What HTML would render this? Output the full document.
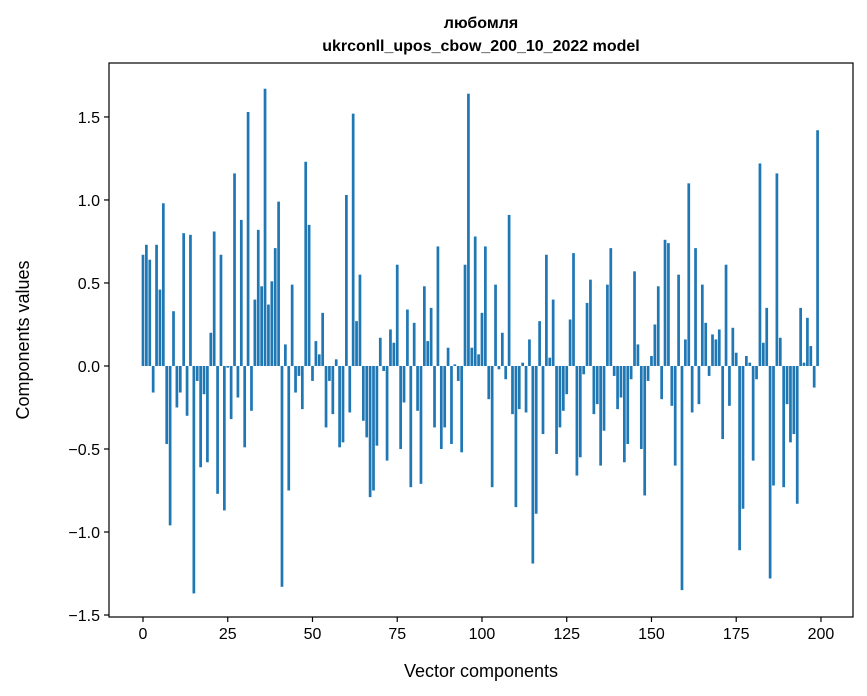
<!DOCTYPE html>
<html><head><meta charset="utf-8"><style>
html,body{margin:0;padding:0;background:#fff;}
svg{display:block;font-family:"Liberation Sans","DejaVu Sans",sans-serif;}
</style></head><body>
<svg id="chart" width="867" height="696" viewBox="0 0 867 696">
<text x="481" y="28" text-anchor="middle" font-size="16" font-weight="bold">любомля</text>
<text x="481" y="51" text-anchor="middle" font-size="16" font-weight="bold">ukrconll_upos_cbow_200_10_2022 model</text>
<g id="bars"></g>
<g id="xticks"></g>
<g id="yticks"></g>
<rect x="109" y="63" width="744" height="554" fill="none" stroke="#000" stroke-width="1.2"/>
<text x="481" y="677" text-anchor="middle" font-size="18">Vector components</text>
<text x="29" y="340" text-anchor="middle" font-size="18" transform="rotate(-90 29 340)">Components values</text>
</svg>
<script>
const values = [0.67,0.73,0.64,-0.16,0.73,0.46,0.98,-0.47,-0.96,0.33,
-0.25,-0.16,0.80,-0.30,0.79,-1.37,-0.09,-0.61,-0.17,-0.58,
0.20,0.81,-0.77,0.67,-0.87,-0.01,-0.32,1.16,-0.19,0.88,
-0.49,1.53,-0.27,0.40,0.82,0.48,1.67,0.37,0.51,0.71,
0.99,-1.33,0.13,-0.75,0.49,-0.16,-0.06,-0.26,1.23,0.85,
-0.09,0.15,0.07,0.32,-0.37,-0.09,-0.29,0.04,-0.49,-0.46,
1.03,-0.28,1.52,0.27,0.55,-0.33,-0.43,-0.79,-0.75,-0.48,
0.17,-0.03,-0.57,0.22,0.14,0.61,-0.50,-0.22,0.34,-0.73,
0.26,-0.27,-0.71,0.48,0.15,0.35,-0.37,0.72,-0.50,-0.37,
0.11,-0.47,0.01,-0.09,-0.52,0.61,1.64,0.11,0.78,0.07,
0.32,0.72,-0.20,-0.73,0.49,-0.02,0.20,-0.08,0.91,-0.29,
-0.85,-0.26,0.02,-0.28,0.16,-1.19,-0.89,0.27,-0.41,0.67,
0.05,0.40,-0.53,-0.37,-0.27,-0.17,0.28,0.68,-0.66,-0.55,
-0.05,0.38,0.52,-0.29,-0.23,-0.60,-0.39,0.49,0.71,-0.06,
-0.26,-0.19,-0.58,-0.47,-0.08,0.57,0.13,-0.50,-0.78,-0.09,
0.06,0.25,0.48,-0.20,0.76,0.74,-0.24,-0.60,0.55,-1.35,
0.16,1.10,-0.28,0.71,-0.23,0.49,0.26,-0.06,0.19,0.16,
0.22,-0.44,0.61,-0.24,0.23,0.08,-1.11,-0.86,0.06,0.02,
-0.57,-0.08,1.22,0.14,0.35,-1.28,-0.72,1.16,0.17,-0.73,
-0.23,-0.46,-0.41,-0.83,0.35,0.02,0.29,0.12,-0.13,1.42];
const xTickLabels = [0,25,50,75,100,125,150,175,200];
const yTickLabels = [-1.5,-1.0,-0.5,0.0,0.5,1.0,1.5];

const NS = "http://www.w3.org/2000/svg";
const plot = {l:109, r:853, t:63, b:617};
const xMin = -10.03, xMax = 209.45, yMin = -1.512, yMax = 1.825;
function xScale(v){ return plot.l + (v - xMin) / (xMax - xMin) * (plot.r - plot.l); }
function yScale(v){ return plot.b - (v - yMin) / (yMax - yMin) * (plot.b - plot.t); }

const barsG = document.getElementById('bars');
const bw = xScale(0.8) - xScale(0);
values.forEach((v, i) => {
  const r = document.createElementNS(NS, 'rect');
  const y0 = yScale(0), y1 = yScale(v);
  r.setAttribute('x', (xScale(i) - bw/2).toFixed(2));
  r.setAttribute('y', Math.min(y0, y1).toFixed(2));
  r.setAttribute('width', bw.toFixed(2));
  r.setAttribute('height', Math.max(Math.abs(y1 - y0), 0.5).toFixed(2));
  r.setAttribute('fill', '#1f77b4');
  
  
  barsG.appendChild(r);
});

const xg = document.getElementById('xticks');
xTickLabels.forEach(t => {
  const x = xScale(t);
  const ln = document.createElementNS(NS, 'line');
  ln.setAttribute('x1', x); ln.setAttribute('x2', x);
  ln.setAttribute('y1', plot.b); ln.setAttribute('y2', plot.b + 5);
  ln.setAttribute('stroke', '#000'); ln.setAttribute('stroke-width', '1.2');
  
  
  xg.appendChild(ln);
  const tx = document.createElementNS(NS, 'text');
  tx.setAttribute('x', x); tx.setAttribute('y', plot.b + 22);
  tx.setAttribute('text-anchor', 'middle'); tx.setAttribute('font-size', '16');
  tx.textContent = String(t);
  
  
  xg.appendChild(tx);
});

const yg = document.getElementById('yticks');
yTickLabels.forEach(t => {
  const y = yScale(t);
  const ln = document.createElementNS(NS, 'line');
  ln.setAttribute('x1', plot.l - 5); ln.setAttribute('x2', plot.l);
  ln.setAttribute('y1', y); ln.setAttribute('y2', y);
  ln.setAttribute('stroke', '#000'); ln.setAttribute('stroke-width', '1.2');
  
  
  yg.appendChild(ln);
  const tx = document.createElementNS(NS, 'text');
  tx.setAttribute('x', plot.l - 9); tx.setAttribute('y', y + 6);
  tx.setAttribute('text-anchor', 'end'); tx.setAttribute('font-size', '16');
  tx.textContent = (t < 0 ? '\u2212' : '') + Math.abs(t).toFixed(1);
  
  
  yg.appendChild(tx);
});
</script>
</body></html>
